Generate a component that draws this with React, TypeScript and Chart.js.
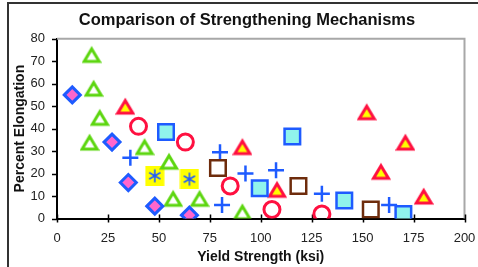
import React, { useEffect, useRef } from "react";
import { Chart, registerables } from "chart.js";

Chart.register(...registerables);

const xTicks = [0, 25, 50, 75, 100, 125, 150, 175, 200];
const yTicks = [0, 10, 20, 30, 40, 50, 60, 70, 80];

const diamondX = [7.5, 27, 35, 48, 65];
const diamondY = [55, 34, 16, 5.5, 1.5];

const greenTriX = [17, 18, 21, 16, 43, 55, 57, 70, 91];
const greenTriY = [73, 58, 45, 34, 32, 25.5, 9, 9, 3];

const redTriX = [33.5, 91, 108, 152, 171, 159, 180];
const redTriY = [50, 32, 13, 47.5, 34, 21, 10];

const circleX = [40, 63, 85, 105.5, 130];
const circleY = [41, 34, 14.5, 4, 2];

const plusX = [36, 80, 92.5, 107.5, 81, 130, 163];
const plusY = [27, 29.5, 20, 21.5, 6, 11, 6];

const cyanSqX = [53.5, 115.5, 99.5, 141, 170];
const cyanSqY = [38.5, 36.5, 13.5, 8, 2];

const brownSqX = [79, 118.5, 154];
const brownSqY = [22.5, 14.5, 4];

const starX = [48, 65];
const starY = [19, 17.5];

const TITLE = "Comparison of Strengthening Mechanisms";
const X_TITLE = "Yield Strength (ksi)";
const Y_TITLE = "Percent Elongation";

const GREEN = "#5CD60F";
const RED = "#FF1040";
const YELLOW = "#FFFF00";
const BLUE = "#1E5BFF";
const PINK = "#FF66CC";
const CYAN = "#90F4EC";
const BROWN = "#6E2C0C";

const FONT = "Arial, 'Liberation Sans', sans-serif";

const pts = (xs: number[], ys: number[]) => xs.map((x, i) => ({ x, y: ys[i] }));

function triangleMarker(stroke: string, fill: string | null) {
  const c = document.createElement("canvas");
  c.width = 20;
  c.height = 20;
  const ctx = c.getContext("2d")!;
  ctx.beginPath();
  ctx.moveTo(10, 4.5);
  ctx.lineTo(17.5, 17);
  ctx.lineTo(2.5, 17);
  ctx.closePath();
  if (fill) {
    ctx.fillStyle = fill;
    ctx.fill();
  }
  ctx.lineWidth = 3;
  ctx.strokeStyle = stroke;
  ctx.lineJoin = "miter";
  ctx.stroke();
  return c;
}

function asteriskMarker() {
  const c = document.createElement("canvas");
  c.width = 20;
  c.height = 20;
  const ctx = c.getContext("2d")!;
  ctx.fillStyle = YELLOW;
  ctx.fillRect(0.5, 0, 19, 20);
  ctx.strokeStyle = BLUE;
  ctx.lineWidth = 1.6;
  const r = 6.5;
  ctx.beginPath();
  for (let k = 0; k < 3; k++) {
    const a = (k * Math.PI) / 3;
    ctx.moveTo(10 + Math.sin(a) * r, 10 - Math.cos(a) * r);
    ctx.lineTo(10 - Math.sin(a) * r, 10 + Math.cos(a) * r);
  }
  ctx.stroke();
  return c;
}

const frameAndTicks = {
  id: "frameAndTicks",
  beforeDatasetsDraw(chart: any) {
    const { ctx, chartArea: a, scales } = chart;
    ctx.save();
    ctx.strokeStyle = "#A8A8A8";
    ctx.lineWidth = 2;
    ctx.beginPath();
    ctx.moveTo(a.left, a.top);
    ctx.lineTo(a.right, a.top);
    ctx.lineTo(a.right, a.bottom);
    ctx.stroke();
    ctx.strokeStyle = "#000";
    ctx.lineWidth = 1.5;
    ctx.beginPath();
    for (const v of xTicks) {
      const px = Math.round(scales.x.getPixelForValue(v)) + 0.5;
      ctx.moveTo(px, a.bottom - 4);
      ctx.lineTo(px, a.bottom + 4);
    }
    for (const v of yTicks) {
      const py = Math.round(scales.y.getPixelForValue(v)) + 0.5;
      ctx.moveTo(a.left - 5, py);
      ctx.lineTo(a.left, py);
    }
    ctx.stroke();
    ctx.restore();
  },
};

export default function App() {
  const ref = useRef<HTMLCanvasElement | null>(null);
  useEffect(() => {
    if (!ref.current) return;
    const chart = new Chart(ref.current, {
      type: "scatter",
      data: {
        datasets: [
          {
            label: "Cyan squares",
            data: pts(cyanSqX, cyanSqY),
            pointStyle: "rect",
            pointRadius: 11,
            backgroundColor: CYAN,
            borderColor: BLUE,
            borderWidth: 2.5,
          },
          {
            label: "Diamonds",
            data: pts(diamondX, diamondY),
            pointStyle: "rectRot",
            pointRadius: 8,
            backgroundColor: PINK,
            borderColor: BLUE,
            borderWidth: 3,
          },
          {
            label: "Green triangles",
            data: pts(greenTriX, greenTriY),
            pointStyle: triangleMarker(GREEN, "#FFFFFF"),
            pointRadius: 10,
            backgroundColor: GREEN,
            borderColor: GREEN,
          },
          {
            label: "Red triangles",
            data: pts(redTriX, redTriY),
            pointStyle: triangleMarker(RED, YELLOW),
            pointRadius: 10,
            backgroundColor: RED,
            borderColor: RED,
          },
          {
            label: "Circles",
            data: pts(circleX, circleY),
            pointStyle: "circle",
            pointRadius: 8,
            backgroundColor: "rgba(255,255,255,0)",
            borderColor: RED,
            borderWidth: 3,
          },
          {
            label: "Brown squares",
            data: pts(brownSqX, brownSqY),
            pointStyle: "rect",
            pointRadius: 11,
            backgroundColor: "#FFFFFF",
            borderColor: BROWN,
            borderWidth: 2.5,
          },
          {
            label: "Plus",
            data: pts(plusX, plusY),
            pointStyle: "cross",
            pointRadius: 8,
            backgroundColor: BLUE,
            borderColor: BLUE,
            borderWidth: 2.5,
          },
          {
            label: "Asterisk",
            data: pts(starX, starY),
            pointStyle: asteriskMarker(),
            pointRadius: 10,
            backgroundColor: YELLOW,
            borderColor: BLUE,
          },
        ],
      },
      options: {
        animation: false,
        responsive: false,
        events: [],
        layout: { padding: { left: 0, right: 11, top: 38.7, bottom: 0 } },
        plugins: {
          legend: { display: false },
          tooltip: { enabled: false },
          title: { display: false },
        },
        scales: {
          x: {
            type: "linear",
            min: 0,
            max: 200,
            afterBuildTicks: (s: any) => {
              s.ticks = xTicks.map((v) => ({ value: v }));
            },
            afterFit: (s: any) => {
              s.height = 48.5;
              s.paddingLeft = 0;
              s.paddingRight = 0;
            },
            grid: { display: false, drawTicks: false },
            border: { display: true, color: "#000", width: 2 },
            ticks: {
              color: "#222",
              font: { family: FONT, size: 13 },
              padding: 12,
              maxRotation: 0,
              autoSkip: false,
            },
            title: {
              display: true,
              text: X_TITLE,
              color: "#111",
              font: { family: FONT, size: 14, weight: "bold", lineHeight: 1.2 },
              padding: { top: 0, bottom: 1.5 },
            },
          },
          y: {
            type: "linear",
            min: 0,
            max: 80,
            afterBuildTicks: (s: any) => {
              s.ticks = yTicks.map((v) => ({ value: v }));
            },
            afterFit: (s: any) => {
              s.width = 57;
              s.paddingTop = 0;
              s.paddingBottom = 0;
            },
            grid: { display: false, drawTicks: false },
            border: { display: true, color: "#000", width: 2 },
            ticks: {
              color: "#222",
              font: { family: FONT, size: 13 },
              padding: 12,
              autoSkip: false,
            },
            title: {
              display: true,
              text: Y_TITLE,
              color: "#111",
              font: { family: FONT, size: 14, weight: "bold", lineHeight: 1.2 },
              padding: { top: 12.2, bottom: 0 },
            },
          },
        },
      } as any,
      plugins: [frameAndTicks],
    });
    return () => chart.destroy();
  }, []);

  return (
    <div
      style={{
        position: "fixed",
        left: 0,
        top: 0,
        width: 478,
        height: 267,
        overflow: "hidden",
        background: "#fff",
      }}
    >
      <canvas
        ref={ref}
        width={478}
        height={267}
        style={{ position: "absolute", left: 0, top: 0, width: 478, height: 267 }}
      />
      <div
        style={{
          position: "absolute",
          left: 0,
          top: 9,
          width: 494,
          height: 20,
          lineHeight: "20px",
          textAlign: "center",
          fontFamily: FONT,
          fontWeight: "bold",
          fontSize: 16.5,
          color: "#111",
          whiteSpace: "nowrap",
        }}
      >
        {TITLE}
      </div>
      <div
        style={{
          position: "absolute",
          left: 7,
          top: 2,
          width: 1000,
          height: 1000,
          border: "2px solid #333",
          pointerEvents: "none",
        }}
      />
    </div>
  );
}
